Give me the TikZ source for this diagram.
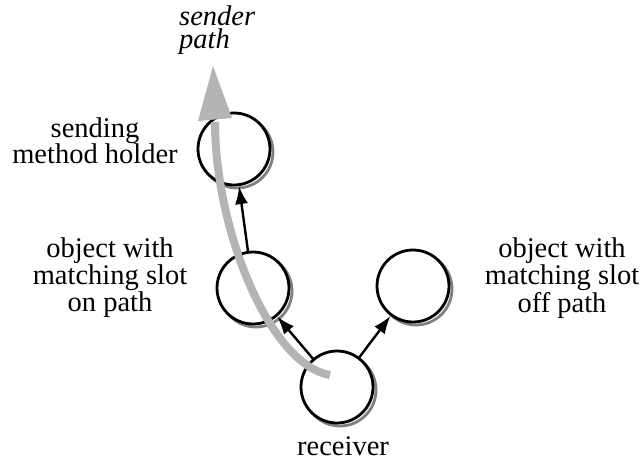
\documentclass[tikz,border=0pt]{standalone}
\usepackage{fontspec}
\setmainfont{Liberation Serif}
\usetikzlibrary{arrows.meta}
\definecolor{shadowgray}{HTML}{808080}
\definecolor{pathgray}{HTML}{B4B4B4}
\begin{document}
\begin{tikzpicture}[x=1pt,y=-1pt,
  obj/.style={circle, draw=black, line width=2.8pt, fill=white,
    minimum size=72pt, inner sep=0pt},
  objshadow/.style={circle, draw=shadowgray, line width=2.8pt,
    minimum size=72pt, inner sep=0pt},
  link/.style={line width=2.4pt, -{Latex[length=18pt,width=13pt]}},
  lbl/.style={font=\fontsize{28.5}{25}\selectfont, align=center,
    inner sep=0pt, anchor=base},
  tag/.style={font=\fontsize{28.5}{23}\selectfont\itshape, align=left,
    inner sep=0pt, anchor=base west}
]
\useasboundingbox (0,0) rectangle (644,461);

% shadows
\node[objshadow] (As) at (237,152) {};
\node[objshadow] (Bs) at (256,291) {};
\node[objshadow] (Cs) at (416,289) {};
\node[objshadow] (Rs) at (340,390) {};

% objects
\node[obj] (A) at (234,149) {};
\node[obj] (B) at (253,288) {};
\node[obj] (C) at (413,286) {};
\node[obj] (R) at (337,387) {};

% parent links
\draw[link] (R) -- (B);
\draw[link] (R) -- (C);
\draw[link] (B) -- (A);

% lookup path
\coordinate (pstart) at (330,375);
\coordinate (pend) at (215,122);
\coordinate (tipL) at (198,121);
\coordinate (tip) at (213,66);
\coordinate (tipR) at (232,118);
\draw[pathgray, line width=8pt] (pstart) .. controls (270,365) and (215,230) .. (pend);
\fill[pathgray] (tipL) -- (tip) -- (tipR) -- cycle;

% labels (base anchor sits on the last line)
\node[lbl, font=\fontsize{28.5}{26}\selectfont] (lA) at (95,163) {sending\\method holder};
\node[lbl] (lB) at (110,311) {object with\\matching slot\\on path};
\node[lbl] (lC) at (562,312) {object with\\matching slot\\off path};
\node[lbl] (lR) at (343,455) {receiver};
\node[tag] (lP) at (179,48) {sender\\path};
\end{tikzpicture}
\end{document}
